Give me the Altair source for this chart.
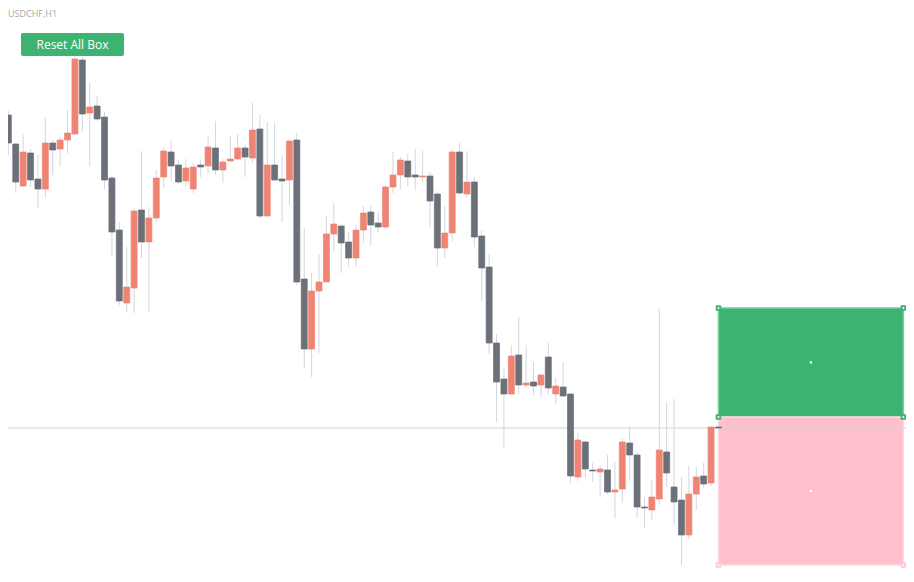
import altair as alt
import pandas as pd
import numpy as np

# ---- USDCHF H1 candles ----
opens = [0.89540, 0.89424, 0.89256, 0.89388, 0.89284, 0.89244, 0.89428, 0.89404, 0.89440, 0.89464,
         0.89760, 0.89548, 0.89576, 0.89532, 0.89288, 0.89080, 0.88788, 0.88848, 0.89160, 0.89032,
         0.89128, 0.89292, 0.89392, 0.89340, 0.89276, 0.89244, 0.89340, 0.89336, 0.89408, 0.89320,
         0.89356, 0.89364, 0.89408, 0.89368, 0.89484, 0.89136, 0.89340, 0.89284, 0.89280, 0.89440,
         0.88884, 0.88604, 0.88836, 0.88872, 0.89064, 0.89096, 0.89032, 0.88968, 0.89080, 0.89152,
         0.89108, 0.89092, 0.89252, 0.89300, 0.89356, 0.89300, 0.89292, 0.89296, 0.89224, 0.89008,
         0.89068, 0.89392, 0.89224, 0.89272, 0.89056, 0.88932, 0.88628, 0.88484, 0.88424, 0.88580,
         0.88460, 0.88472, 0.88460, 0.88572, 0.88424, 0.88452, 0.88424, 0.88092, 0.88232, 0.88120,
         0.88112, 0.88120, 0.88032, 0.88044, 0.88228, 0.88180, 0.87972, 0.87960, 0.88004, 0.88192,
         0.88052, 0.88000, 0.87860, 0.88024, 0.88096, 0.88068, 0.88292]
highs = [0.89556, 0.89428, 0.89460, 0.89404, 0.89380, 0.89528, 0.89440, 0.89452, 0.89560, 0.89776,
         0.89772, 0.89668, 0.89616, 0.89552, 0.89300, 0.89112, 0.89012, 0.89168, 0.89396, 0.89172,
         0.89320, 0.89412, 0.89436, 0.89360, 0.89364, 0.89348, 0.89360, 0.89456, 0.89516, 0.89364,
         0.89456, 0.89464, 0.89420, 0.89588, 0.89540, 0.89512, 0.89508, 0.89380, 0.89440, 0.89468,
         0.89088, 0.88908, 0.88984, 0.89136, 0.89188, 0.89104, 0.89072, 0.89100, 0.89176, 0.89176,
         0.89152, 0.89260, 0.89392, 0.89372, 0.89384, 0.89404, 0.89396, 0.89312, 0.89236, 0.89176,
         0.89404, 0.89428, 0.89396, 0.89292, 0.89080, 0.88984, 0.88664, 0.88528, 0.88620, 0.88732,
         0.88620, 0.88552, 0.88504, 0.88628, 0.88488, 0.88552, 0.88428, 0.88268, 0.88236, 0.88148,
         0.88140, 0.88180, 0.88152, 0.88248, 0.88296, 0.88192, 0.88012, 0.88080, 0.88768, 0.88392,
         0.88404, 0.88092, 0.88136, 0.88132, 0.88148, 0.88292, 0.88296]
lows = [0.89380, 0.89228, 0.89252, 0.89252, 0.89168, 0.89208, 0.89300, 0.89332, 0.89388, 0.89460,
        0.89472, 0.89336, 0.89516, 0.89244, 0.88976, 0.88780, 0.88752, 0.88748, 0.88968, 0.88752,
        0.89112, 0.89248, 0.89276, 0.89264, 0.89256, 0.89228, 0.89292, 0.89304, 0.89300, 0.89268,
        0.89352, 0.89360, 0.89292, 0.89348, 0.89124, 0.89136, 0.89276, 0.89112, 0.89180, 0.88860,
        0.88528, 0.88492, 0.88588, 0.88872, 0.88992, 0.88908, 0.88932, 0.88932, 0.89028, 0.89016,
        0.89072, 0.89084, 0.89228, 0.89240, 0.89256, 0.89240, 0.89272, 0.89092, 0.88936, 0.88968,
        0.89036, 0.89220, 0.89208, 0.89012, 0.88796, 0.88584, 0.88312, 0.88204, 0.88420, 0.88424,
        0.88448, 0.88420, 0.88412, 0.88420, 0.88384, 0.88412, 0.88068, 0.88076, 0.88088, 0.88072,
        0.88012, 0.88024, 0.87928, 0.87988, 0.88076, 0.87928, 0.87888, 0.87920, 0.87984, 0.88052,
        0.87900, 0.87740, 0.87844, 0.87960, 0.88048, 0.88056, 0.88284]
closes = [0.89428, 0.89272, 0.89392, 0.89280, 0.89244, 0.89428, 0.89400, 0.89440, 0.89468, 0.89764,
          0.89544, 0.89572, 0.89524, 0.89280, 0.89072, 0.88796, 0.88852, 0.89156, 0.89032, 0.89128,
          0.89288, 0.89396, 0.89336, 0.89272, 0.89328, 0.89332, 0.89332, 0.89412, 0.89320, 0.89352,
          0.89364, 0.89408, 0.89372, 0.89480, 0.89136, 0.89340, 0.89280, 0.89276, 0.89436, 0.88872,
          0.88604, 0.88836, 0.88872, 0.89064, 0.89104, 0.89028, 0.88968, 0.89080, 0.89148, 0.89100,
          0.89092, 0.89252, 0.89300, 0.89360, 0.89292, 0.89292, 0.89296, 0.89196, 0.89008, 0.89068,
          0.89392, 0.89228, 0.89272, 0.89052, 0.88928, 0.88628, 0.88472, 0.88424, 0.88576, 0.88460,
          0.88468, 0.88456, 0.88500, 0.88448, 0.88456, 0.88416, 0.88096, 0.88240, 0.88124, 0.88116,
          0.88124, 0.88032, 0.88040, 0.88232, 0.88180, 0.87972, 0.87968, 0.88012, 0.88200, 0.88108,
          0.87992, 0.87860, 0.88024, 0.88092, 0.88064, 0.88292, 0.88288]

current_price = 0.88288

# trade box (time in bar index, prices)
box_start, box_end = 96, 121
box_tp, box_entry, box_sl = 0.88768, 0.88332, 0.87740

symbol_label = "USDCHF,H1"
button_label = "Reset All Box"

UP, DOWN = "#f08474", "#6b7079"
WICK = "#d4d6e0"
GREEN, PINK = "#3cb371", "#ffc0cb"

df = pd.DataFrame({"bar": np.arange(len(opens)), "open": opens, "high": highs,
                   "low": lows, "close": closes})
df["dir"] = np.where(df["close"] >= df["open"], "up", "down")

W, H = 898, 562
xs = alt.Scale(domain=[0.628, 120.68], nice=False, zero=False)
ys = alt.Scale(domain=[0.87720, 0.89968], nice=False, zero=False)
X = lambda f: alt.X(f, type="quantitative", scale=xs, axis=None)
Y = lambda f: alt.Y(f, type="quantitative", scale=ys, axis=None)

base = alt.Chart(df)
wicks = base.mark_rule(color=WICK, strokeWidth=1, clip=True).encode(
    x=X("bar"), y=Y("low"), y2="high")
bodies_up = base.transform_filter(alt.datum.dir == "up").mark_bar(
    size=6, clip=True, strokeWidth=0.7, color=UP, stroke=UP).encode(
    x=X("bar"), y=Y("open"), y2="close")
bodies_down = base.transform_filter(alt.datum.dir == "down").mark_bar(
    size=6, clip=True, strokeWidth=0.7, color=DOWN, stroke=DOWN).encode(
    x=X("bar"), y=Y("open"), y2="close")

box_df = pd.DataFrame({"x": [box_start, box_start], "x2": [box_end, box_end],
                       "top": [box_tp, box_entry], "bottom": [box_entry, box_sl],
                       "kind": ["profit", "loss"]})
box_df["mid"] = (box_df["top"] + box_df["bottom"]) / 2
box_df["xm"] = (box_df["x"] + box_df["x2"]) / 2
bb = alt.Chart(box_df)
box_profit = bb.transform_filter(alt.datum.kind == "profit").mark_rect(
    strokeWidth=1.5, clip=True, color=GREEN, stroke="#78cf9c").encode(
    x=X("x"), x2="x2", y=Y("top"), y2="bottom")
box_loss = bb.transform_filter(alt.datum.kind == "loss").mark_rect(
    strokeWidth=1.5, clip=True, color=PINK, stroke="#ffd9df").encode(
    x=X("x"), x2="x2", y=Y("top"), y2="bottom")
centers = bb.mark_square(size=5, color="white", opacity=1).encode(
    x=X("xm"), y=Y("mid"))

handle_df = pd.DataFrame({
    "x": [box_start, box_end, box_start, box_end, box_start, box_end],
    "y": [box_tp, box_tp, box_entry, box_entry, box_sl, box_sl],
    "kind": ["profit"] * 4 + ["loss"] * 2})
hb = alt.Chart(handle_df)
handles_g = hb.transform_filter(alt.datum.kind == "profit").mark_square(
    size=30, opacity=1, clip=True, color=GREEN).encode(x=X("x"), y=Y("y"))
handles_p = hb.transform_filter(alt.datum.kind == "loss").mark_square(
    size=30, opacity=1, clip=True, color="#ffc8d2").encode(x=X("x"), y=Y("y"))
handle_dots = hb.mark_square(size=3, color="white", opacity=1, clip=True).encode(
    x=X("x"), y=Y("y"))

price_line = alt.Chart(pd.DataFrame({"p": [current_price]})).mark_rule(
    color="#cfd2dc", strokeWidth=1).encode(y=Y("p"))

one = pd.DataFrame({"a": [0]})
button = alt.Chart(one).mark_rect(color=GREEN, cornerRadius=2).encode(
    x=alt.value(13), x2=alt.value(116), y=alt.value(25), y2=alt.value(48))
button_text = alt.Chart(one).mark_text(
    text=button_label, color="white", font="Open Sans", fontSize=12,
    align="center", baseline="middle").encode(x=alt.value(64.5), y=alt.value(37))
title = alt.Chart(one).mark_text(
    text=symbol_label, color="#a6a6a6", font="Open Sans", fontSize=9,
    align="left", baseline="alphabetic").encode(x=alt.value(0), y=alt.value(8.5))

chart = alt.layer(
    box_profit, box_loss, price_line, centers, handles_g, handles_p, handle_dots,
    wicks, bodies_up, bodies_down, button, button_text, title
).properties(width=W, height=H, padding=0, background="white",
             autosize=alt.AutoSizeParams(type="none")
).configure_view(stroke=None)

chart.save("out.html", embed_options={"renderer": "svg", "actions": False})
